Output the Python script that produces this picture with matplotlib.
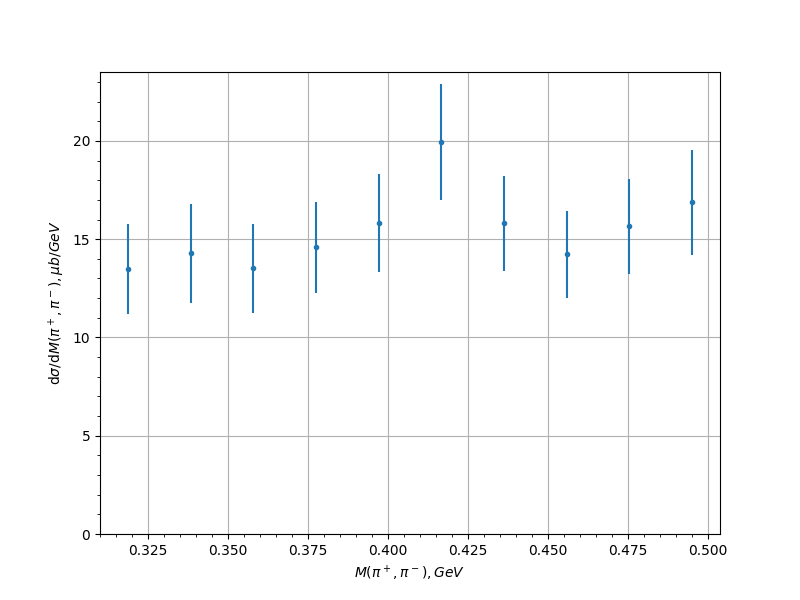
import matplotlib
matplotlib.use("Agg")
import matplotlib.pyplot as plt

mass = [0.31875, 0.33844, 0.35781, 0.37750, 0.39719, 0.41656, 0.43625, 0.45594, 0.47531, 0.49500]
xsec = [13.47, 14.28, 13.52, 14.59, 15.81, 19.95, 15.81, 14.23, 15.66, 16.88]
err = [2.28, 2.51, 2.26, 2.31, 2.49, 2.97, 2.42, 2.21, 2.41, 2.67]

fig, ax = plt.subplots(figsize=(8, 6), dpi=100)
ax.errorbar(mass, xsec, yerr=err, fmt='.')
ax.set_ylim(bottom=0)
ax.minorticks_on()
ax.grid(True, which='major')
ax.set_xlabel(r'$M(\pi^+,\pi^-), GeV$')
ax.set_ylabel(r'd$\sigma$/d$M(\pi^+,\pi^-), \mu b/GeV$')
fig.savefig("out.png")
